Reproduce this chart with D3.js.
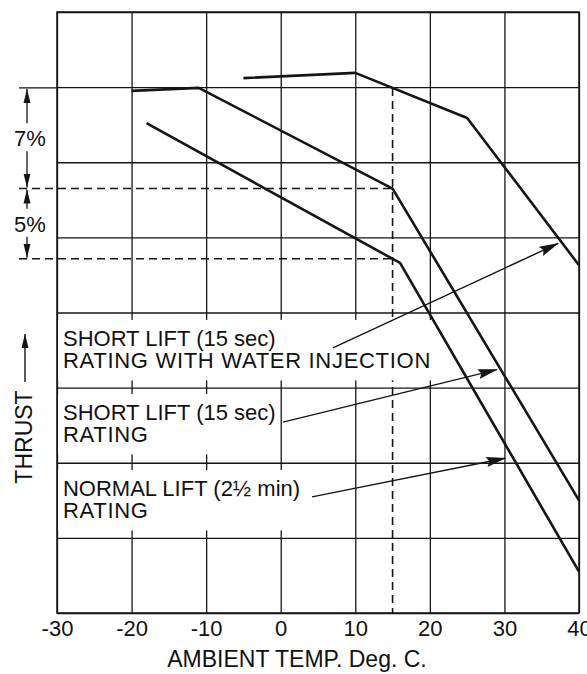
<!DOCTYPE html>
<html>
<head>
<meta charset="utf-8">
<script src="https://cdn.jsdelivr.net/npm/d3@7"></script>
<style>
  html, body { margin: 0; padding: 0; background: #ffffff; }
  svg { display: block; }
  text { font-family: "Liberation Sans", Arial, Helvetica, sans-serif; fill: #111; }
</style>
</head>
<body>
<svg id="chart" width="587" height="674"></svg>
<script>
// Grid ticks (ambient temperature, deg C) and thrust grid rows (arbitrary units)
const tempTicks = [-30, -20, -10, 0, 10, 20, 30, 40];
const tempTickLabels = ["-30", "-20", "-10", "0", "10", "20", "30", "40"];
const thrustGrid = [0, 1, 2, 3, 4, 5, 6, 7, 8];

// Short lift (15 sec) rating with water injection
const waterTemp = [-5, 10, 25, 40];
const waterThrust = [7.12, 7.19, 6.59, 4.63];

// Short lift (15 sec) rating
const shortTemp = [-20, -11, 15, 40];
const shortThrust = [6.95, 6.99, 5.65, 1.50];

// Normal lift (2½ min) rating
const normalTemp = [-18, 16, 40];
const normalThrust = [6.52, 4.66, 0.55];

// Reference temperature where the rating margins are compared
const ratingTemp = 15;
const marginLabels = ["7%", "5%"];

// Curve annotations: text lines, first baseline (thrust units), arrow start and tip
const noteLines = [
  ["SHORT LIFT (15 sec)", "RATING WITH WATER INJECTION"],
  ["SHORT LIFT (15 sec)", "RATING"],
  ["NORMAL LIFT (2½ min)", "RATING"]
];
const noteTemp = -29.2;
const noteThrust = [3.555, 2.57, 1.558];
const arrowFrom = [[7.0, 3.53], [0.31, 2.54], [4.2, 1.545]];
const arrowTo = [[37.2, 4.92], [29.0, 3.24], [30.1, 2.06]];

const xTitle = "AMBIENT TEMP. Deg. C.";
const yTitle = "THRUST";

const svg = d3.select("#chart");
const x = d3.scaleLinear().domain([-30, 40]).range([57, 579]);
const y = d3.scaleLinear().domain([0, 8]).range([613, 12]);

const ink = "#151515";

// linear interpolation along a polyline
function valueAt(xs, ys, t) {
  for (let i = 0; i < xs.length - 1; i++) {
    if (t >= xs[i] && t <= xs[i + 1]) {
      const f = (t - xs[i]) / (xs[i + 1] - xs[i]);
      return ys[i] + f * (ys[i + 1] - ys[i]);
    }
  }
  return NaN;
}

const defs = svg.append("defs");
defs.append("marker").attr("id", "head")
  .attr("markerUnits", "userSpaceOnUse").attr("viewBox", "0 -6 20 12")
  .attr("markerWidth", 20).attr("markerHeight", 12)
  .attr("refX", 19).attr("refY", 0).attr("orient", "auto")
  .append("path").attr("d", "M0,-5 L20,0 L0,5 L3,0 Z").attr("fill", ink);
defs.append("marker").attr("id", "dim")
  .attr("markerUnits", "userSpaceOnUse").attr("viewBox", "0 -4 14 8")
  .attr("markerWidth", 14).attr("markerHeight", 8)
  .attr("refX", 14).attr("refY", 0).attr("orient", "auto")
  .append("path").attr("d", "M0,-3.5 L14,0 L0,3.5 Z").attr("fill", ink);

// vertical grid + tick labels
const xAxis = svg.append("g")
  .attr("transform", `translate(0,${y(0)})`)
  .call(d3.axisBottom(x).tickValues(tempTicks).tickSize(-(y(0) - y(8)))
    .tickFormat((d, i) => tempTickLabels[i]));
xAxis.select(".domain").remove();
xAxis.selectAll("line").attr("stroke", ink).attr("stroke-width", 1.3);
xAxis.selectAll("text")
  .attr("y", 23).attr("dy", 0)
  .style("font-family", '"Liberation Sans", Arial, sans-serif')
  .style("font-size", "22px").attr("fill", ink);

// horizontal grid
const yAxis = svg.append("g")
  .attr("transform", `translate(${x(-30)},0)`)
  .call(d3.axisLeft(y).tickValues(thrustGrid).tickSize(-(x(40) - x(-30))).tickFormat(""));
yAxis.select(".domain").remove();
yAxis.selectAll("line").attr("stroke", ink).attr("stroke-width", 1.3);

// frame
svg.append("rect")
  .attr("x", x(-30)).attr("y", y(8))
  .attr("width", x(40) - x(-30)).attr("height", y(0) - y(8))
  .attr("fill", "none").attr("stroke", ink).attr("stroke-width", 1.5);

// rating margin levels at the reference temperature
const topLevel = valueAt(waterTemp, waterThrust, ratingTemp);
const midLevel = valueAt(shortTemp, shortThrust, ratingTemp);
const lowLevel = valueAt(normalTemp, normalThrust, ratingTemp);
const dimX = 27;
const extX = 19;

svg.append("line")
  .attr("x1", extX).attr("x2", x(-30)).attr("y1", y(topLevel)).attr("y2", y(topLevel))
  .attr("stroke", ink).attr("stroke-width", 1.3);
[midLevel, lowLevel].forEach(v => {
  svg.append("line")
    .attr("x1", extX).attr("x2", x(ratingTemp)).attr("y1", y(v)).attr("y2", y(v))
    .attr("stroke", ink).attr("stroke-width", 1.6).attr("stroke-dasharray", "8,5");
});
svg.append("line")
  .attr("x1", x(ratingTemp)).attr("x2", x(ratingTemp))
  .attr("y1", y(topLevel)).attr("y2", y(0))
  .attr("stroke", ink).attr("stroke-width", 1.6).attr("stroke-dasharray", "8,5");

// annotation backgrounds and text (one text element per line)
noteLines.forEach((lines, i) => {
  const g = svg.append("g");
  const bg = g.append("rect").attr("fill", "#ffffff");
  const base = y(noteThrust[i]);
  let right = 0;
  lines.forEach((s, j) => {
    const caps = s === s.toUpperCase();
    const t = g.append("text")
      .attr("x", x(noteTemp)).attr("y", base + j * 22.5)
      .style("font-size", "22px")
      .style("letter-spacing", caps ? "0.7px" : "0px")
      .text(s);
    const bb = t.node().getBBox();
    right = Math.max(right, bb.x + bb.width);
  });
  bg.attr("x", x(-30) + 1).attr("y", base - 26)
    .attr("width", right + 4 - (x(-30) + 1))
    .attr("height", 22.5 * (lines.length - 1) + 38);
});

// rating curves
const line = d3.line().x(d => x(d[0])).y(d => y(d[1]));
[[waterTemp, waterThrust], [shortTemp, shortThrust], [normalTemp, normalThrust]].forEach(([ts, vs]) => {
  svg.append("path")
    .datum(ts.map((t, i) => [t, vs[i]]))
    .attr("d", line)
    .attr("fill", "none").attr("stroke", ink)
    .attr("stroke-width", 2.6).attr("stroke-linejoin", "round");
});

// leader arrows
arrowFrom.forEach((a, i) => {
  svg.append("line")
    .attr("x1", x(a[0])).attr("y1", y(a[1]))
    .attr("x2", x(arrowTo[i][0])).attr("y2", y(arrowTo[i][1]))
    .attr("stroke", ink).attr("stroke-width", 1.4)
    .attr("marker-end", "url(#head)");
});

// margin dimension arrows with percentage labels
const levels = [topLevel, midLevel, lowLevel];
marginLabels.forEach((lab, i) => {
  const y1 = y(levels[i]), y2 = y(levels[i + 1]);
  const mid = (y1 + y2) / 2;
  svg.append("line").attr("x1", dimX).attr("x2", dimX)
    .attr("y1", mid - 15).attr("y2", y1 + 1)
    .attr("stroke", ink).attr("stroke-width", 1.3).attr("marker-end", "url(#dim)");
  svg.append("line").attr("x1", dimX).attr("x2", dimX)
    .attr("y1", mid + 13).attr("y2", y2 - 1)
    .attr("stroke", ink).attr("stroke-width", 1.3).attr("marker-end", "url(#dim)");
  svg.append("text")
    .attr("x", 30).attr("y", mid + 8)
    .attr("text-anchor", "middle")
    .style("font-size", "22px")
    .text(lab);
});

// axis titles
svg.append("text")
  .attr("x", 297).attr("y", 667)
  .attr("text-anchor", "middle")
  .style("font-size", "23px")
  .text(xTitle);

svg.append("text")
  .attr("transform", "translate(32,437) rotate(-90)")
  .attr("text-anchor", "middle")
  .style("font-size", "23px")
  .text(yTitle);
svg.append("line")
  .attr("x1", 25).attr("x2", 25).attr("y1", 382).attr("y2", 334)
  .attr("stroke", ink).attr("stroke-width", 1.4)
  .attr("marker-end", "url(#dim)");
</script>
</body>
</html>
